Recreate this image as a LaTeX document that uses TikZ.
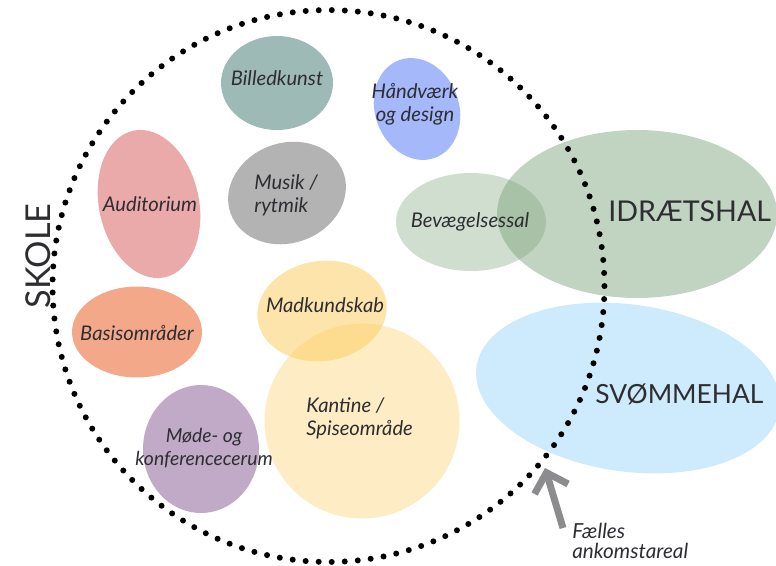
\documentclass[tikz,border=0pt]{standalone}
\usepackage{fontspec}
\setmainfont{Lato}
\usepackage{xcolor}
\usetikzlibrary{arrows.meta,shapes.geometric}

\definecolor{ink}{RGB}{45,45,50}
\definecolor{kunst}{RGB}{157,186,183}
\definecolor{haand}{RGB}{164,184,250}
\definecolor{audi}{RGB}{234,170,170}
\definecolor{musik}{RGB}{179,179,179}
\definecolor{sage}{RGB}{120,160,120}
\definecolor{basis}{RGB}{244,168,138}
\definecolor{mad}{RGB}{252,205,100}
\definecolor{moede}{RGB}{192,170,200}
\definecolor{svoem}{RGB}{205,235,252}
\definecolor{pil}{RGB}{140,140,143}

\begin{document}
\begin{tikzpicture}[
    x=0.02cm, y=-0.02cm,
    room/.style={ellipse, inner sep=0pt, draw=none},
    lbl/.style={font=\fontsize{11.5}{13}\selectfont\itshape, text=ink, align=center, inner sep=0pt},
    hall/.style={font=\fontsize{15.5}{18}\selectfont, text=ink, inner sep=0pt},
    dots/.style={line width=0.12cm, line cap=round, dash pattern=on 0pt off 0.2608cm},
    arrow/.style={-{Straight Barb[length=0.34cm,width=0.7cm]}, line width=0.14cm, draw=pil}
]
\useasboundingbox (0,0) rectangle (776,565);

% rooms
\node[room, fill=sage, fill opacity=0.46, minimum width=5.6cm, minimum height=3.36cm] (idr) at (637,214) {};
\node[room, fill=sage, fill opacity=0.35, minimum width=3cm, minimum height=1.96cm] (bev) at (471,222) {};
\node[room, fill=svoem, minimum width=6.12cm, minimum height=3.34cm, rotate=-8] (svo) at (628,388) {};
\node[room, fill=kunst, minimum width=2.24cm, minimum height=1.88cm] (bil) at (277,83) {};
\node[room, fill=haand, minimum width=1.68cm, minimum height=2.08cm, rotate=20] (haa) at (417,109) {};
\node[room, fill=audi, minimum width=2cm, minimum height=3cm, rotate=12] (aud) at (149,204) {};
\node[room, fill=musik, minimum width=2.4cm, minimum height=2cm, rotate=20] (mus) at (287,193) {};
\node[room, fill=basis, minimum width=2.6cm, minimum height=1.82cm] (bas) at (137,332) {};
\node[room, fill=mad, fill opacity=0.38, circle, minimum size=3.9cm] (kan) at (362,421) {};
\node[room, fill=mad, fill opacity=0.55, minimum width=2.6cm, minimum height=2cm, rotate=8] (mad) at (322,311) {};
\node[room, fill=moede, minimum width=2.32cm, minimum height=2.56cm] (moe) at (201,449) {};

% labels
\node[lbl] (bilT) at (277,78) {Billedkunst};
\node[lbl] (haaT) at (415,104) {Håndværk\\og design};
\node[lbl] (audT) at (150,204) {Auditorium};
\node[lbl, align=left, anchor=west] (musT) at (254,195) {Musik /\\rytmik};
\node[lbl] (bevT) at (470,222) {Bevægelsessal};
\node[lbl] (basT) at (137,333) {Basisområder};
\node[lbl] (madT) at (325,305) {Madkundskab};
\node[lbl, align=left, anchor=west] (kanT) at (306,418) {Kantine /\\Spiseområde};
\node[lbl, font=\fontsize{11}{13}\selectfont\itshape] (moeT) at (204,448) {Møde- og\\konferencecerum};
\node[hall, anchor=west, font=\fontsize{16.3}{18}\selectfont] (idrT) at (608,211) {IDRÆTSHAL};
\node[hall, anchor=west, font=\fontsize{15}{18}\selectfont] (svoT) at (595,394) {SVØMMEHAL};
\node[font=\fontsize{19.5}{24}\selectfont, text=ink, rotate=90, inner sep=0pt] (skole) at (38,256) {SKOLE};

% school boundary
\draw[dots] (328.5,286) circle[radius=5.52cm];

% entrance
\node[lbl, align=left, anchor=north west, font=\fontsize{11.8}{11.4}\selectfont\itshape] (ank) at (572,523) {Fælles\\ankomstareal};
\coordinate (pilA) at (563,528);
\coordinate (pilB) at (545,468);
\draw[arrow] (pilA) -- (pilB);
\end{tikzpicture}
\end{document}
